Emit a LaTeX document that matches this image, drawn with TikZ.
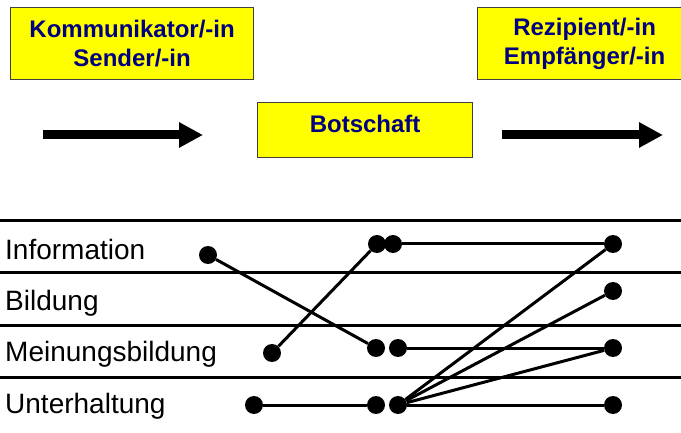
\documentclass[tikz,border=0pt]{standalone}
\usepackage{fontspec}
\setmainfont{Liberation Sans}
\usetikzlibrary{arrows.meta}
\definecolor{boxyellow}{RGB}{255,255,0}
\definecolor{navytext}{RGB}{0,0,128}
\begin{document}
\begin{tikzpicture}[x=1pt,y=-1pt,
  box/.style={draw=black!75, line width=1.2pt, fill=boxyellow, text=navytext,
    font=\fontsize{24}{29}\selectfont\bfseries, align=center, inner sep=0pt, anchor=north west},
  bigarrow/.style={line width=9pt, -{Triangle[length=24pt,width=24pt]}},
  sepline/.style={line width=3pt},
  dot/.style={circle, fill=black, minimum size=18pt, inner sep=0pt},
  conn/.style={line width=3pt},
  lab/.style={font=\fontsize{28}{33}\selectfont, anchor=base west, inner sep=0pt}]
\useasboundingbox (0,0) rectangle (681,433);
\clip (0,0) rectangle (681,433);

% top boxes
\node[box, minimum width=243pt, minimum height=72pt] (sender) at (10,7) {Kommunikator/-in\\Sender/-in};
\node[box, minimum width=214pt, minimum height=72pt] (empf) at (477,7) {Rezipient/-in\\Empfänger/-in};
\node[box, minimum width=215pt, minimum height=55pt, text height=18pt, text depth=13.8pt] (bot) at (257,102) {Botschaft};

% big arrows
\coordinate (a1s) at (43,135);
\coordinate (a1e) at (203,135);
\coordinate (a2s) at (502,135);
\coordinate (a2e) at (663,135);
\draw[bigarrow] (a1s) -- (a1e);
\draw[bigarrow] (a2s) -- (a2e);

% separator lines
\foreach \yy in {221,273,325,377} \draw[sepline] (-5,\yy) -- (690,\yy);

% labels
\node[lab] (linfo) at (5,259) {Information};
\node[lab] (lbild) at (5,310) {Bildung};
\node[lab] (lmein) at (5,361) {Meinungsbildung};
\node[lab] (lunt) at (5,413) {Unterhaltung};

% dots
\node[dot] (il) at (208,255) {};
\node[dot] (ml) at (272,353) {};
\node[dot] (ul) at (254,405) {};
\node[dot] (ia) at (377,244) {};
\node[dot] (ib) at (393,244) {};
\node[dot] (ma) at (376,348) {};
\node[dot] (mb) at (398,348) {};
\node[dot] (ua) at (376,405) {};
\node[dot] (ub) at (398,405) {};
\node[dot] (r1) at (613,244) {};
\node[dot] (r2) at (613,291) {};
\node[dot] (r3) at (613,348) {};
\node[dot] (r4) at (613,405) {};

% connectors
\draw[conn] (il) -- (ma);
\draw[conn] (ml) -- (ia);
\draw[conn] (ib) -- (r1);
\draw[conn] (mb) -- (r3);
\draw[conn] (ul) -- (ua);
\draw[conn] (ub) -- (r1);
\draw[conn] (ub) -- (r2);
\draw[conn] (ub) -- (r3);
\draw[conn] (ub) -- (r4);
\end{tikzpicture}
\end{document}
